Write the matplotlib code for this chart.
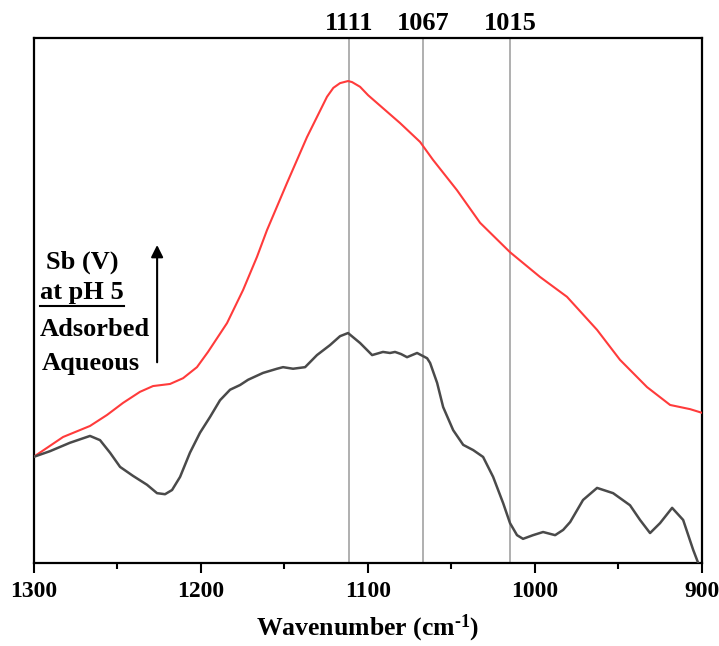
import matplotlib
matplotlib.use("Agg")
import matplotlib.pyplot as plt
from matplotlib.ticker import MultipleLocator

# ------------ data ------------
# red: adsorbed Sb(V) (arbitrary absorbance units)
wn_ads = [1300, 1282.3, 1266.2, 1256.0, 1246.4, 1236.3, 1228.5, 1218.3, 1210.5,
          1202.2, 1195.6, 1184.2, 1174.6, 1166.3, 1160.3, 1148.3, 1136.4, 1124.4,
          1120.6, 1116.6, 1111.8, 1109.4, 1104.6, 1099.8, 1094.4, 1080.7, 1068.7,
          1061.0, 1046.6, 1032.8, 1014.9, 997.0, 980.8, 962.8, 949.1, 932.9,
          919.1, 907.1, 900]
ab_ads = [0.202, 0.240, 0.261, 0.282, 0.305, 0.326, 0.337, 0.341, 0.352,
          0.373, 0.402, 0.457, 0.520, 0.583, 0.634, 0.724, 0.811, 0.888,
          0.905, 0.914, 0.918, 0.916, 0.907, 0.891, 0.876, 0.838, 0.802,
          0.768, 0.710, 0.648, 0.592, 0.545, 0.507, 0.444, 0.387, 0.335,
          0.301, 0.293, 0.286]

# dark grey: aqueous Sb(V)
wn_aq = [1300, 1290.1, 1278.2, 1266.2, 1260.2, 1254.2, 1248.2, 1240.5, 1232.1,
         1226.1, 1221.3, 1217.1, 1212.3, 1206.4, 1200.4, 1194.4, 1188.4, 1182.4,
         1176.4, 1171.6, 1162.7, 1154.3, 1150.7, 1144.7, 1137.5, 1130.4, 1122.6,
         1116.6, 1111.8, 1104.6, 1097.4, 1090.9, 1086.7, 1083.7, 1080.1, 1076.5,
         1070.5, 1064.5, 1062.7, 1058.5, 1054.9, 1048.9, 1042.9, 1036.9, 1031.0,
         1025.0, 1019.0, 1014.9, 1010.7, 1007.1, 1001.1, 995.1, 987.9, 983.1,
         978.9, 971.2, 962.8, 953.2, 943.1, 937.1, 931.1, 925.1, 917.9, 911.3,
         905.3, 902.3]
ab_aq = [0.202, 0.213, 0.229, 0.242, 0.234, 0.210, 0.183, 0.166, 0.149,
         0.133, 0.131, 0.139, 0.164, 0.210, 0.248, 0.278, 0.310, 0.330,
         0.339, 0.349, 0.362, 0.370, 0.373, 0.370, 0.373, 0.396, 0.415,
         0.432, 0.438, 0.419, 0.396, 0.402, 0.400, 0.402, 0.398, 0.392,
         0.400, 0.390, 0.381, 0.343, 0.297, 0.253, 0.225, 0.215, 0.202,
         0.164, 0.114, 0.076, 0.053, 0.046, 0.053, 0.059, 0.053, 0.063,
         0.078, 0.120, 0.143, 0.133, 0.110, 0.082, 0.057, 0.076, 0.105, 0.082,
         0.025, 0.0]

peaks = [1111, 1067, 1015]
label_lines = ["Sb (V)", "at pH 5", "Adsorbed", "Aqueous"]

# ------------ plotting ------------
plt.rcParams['font.family'] = ['Liberation Serif', 'DejaVu Serif']
plt.rcParams['font.weight'] = 'bold'
plt.rcParams['mathtext.fontset'] = 'custom'
plt.rcParams['mathtext.rm'] = 'Liberation Serif:bold'
plt.rcParams['mathtext.bf'] = 'Liberation Serif:bold'
plt.rcParams['mathtext.default'] = 'rm'

fig = plt.figure(figsize=(7.19, 6.46), dpi=100)
ax = fig.add_axes([0.0466, 0.1285, 0.9298, 0.8127])

for p in peaks:
    ax.axvline(p, color='#9a9a9a', lw=1.1, zorder=1)
    ax.text(p, 1.027, str(p), transform=ax.get_xaxis_transform(),
            ha='center', va='center', fontsize=19, fontweight='bold')

ax.plot(wn_ads, ab_ads, color='#ff3b3b', lw=1.5, zorder=3)
ax.plot(wn_aq, ab_aq, color='#4a4a4a', lw=1.8, zorder=3)

ax.set_xlim(1300, 900)
ax.set_ylim(0, 1)
ax.set_yticks([])
ax.xaxis.set_major_locator(MultipleLocator(100))
ax.xaxis.set_minor_locator(MultipleLocator(50))
ax.tick_params(axis='x', which='major', direction='out', length=7, width=1.5,
               labelsize=17, pad=6)
ax.tick_params(axis='x', which='minor', direction='out', length=4, width=1.5)
for s in ax.spines.values():
    s.set_linewidth(1.6)

ax.set_xlabel(r"Wavenumber (cm$^{\text{-}1}$)", fontsize=18.5, fontweight='bold',
              labelpad=8)

# annotation block on the left
ax.text(0.0725, 0.560, label_lines[0], transform=ax.transAxes, ha='center',
        va='baseline', fontsize=19, fontweight='bold')
ax.text(0.0097, 0.503, label_lines[1], transform=ax.transAxes, ha='left',
        va='baseline', fontsize=19, fontweight='bold')
ax.plot([0.0097, 0.1354], [0.4895, 0.4895], transform=ax.transAxes,
        color='black', lw=1.5)
ax.text(0.0097, 0.432, label_lines[2], transform=ax.transAxes, ha='left',
        va='baseline', fontsize=19, fontweight='bold')
ax.text(0.0127, 0.368, label_lines[3], transform=ax.transAxes, ha='left',
        va='baseline', fontsize=19, fontweight='bold')
ax.annotate('', xy=(0.1849, 0.611), xytext=(0.1849, 0.377),
            xycoords='axes fraction', textcoords='axes fraction',
            arrowprops=dict(arrowstyle='-|>', color='black', lw=1.5,
                            mutation_scale=18))

fig.savefig("out.png", dpi=100)
